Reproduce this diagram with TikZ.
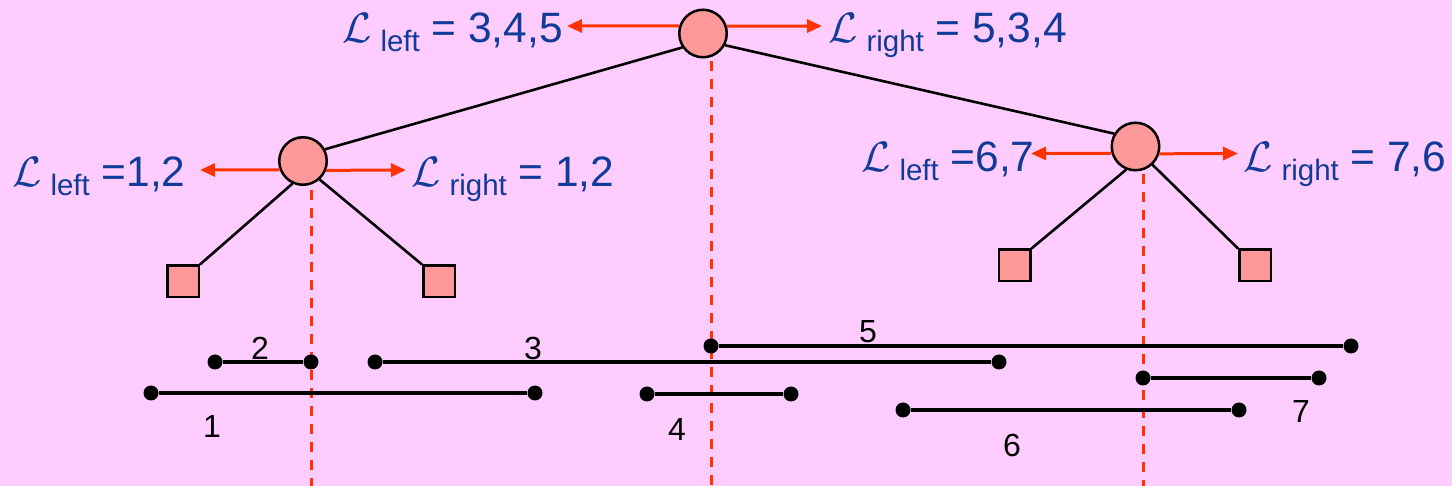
\RequirePackage{fix-cm}
\documentclass[tikz,border=0pt]{standalone}
\usepackage{fontspec}
\setmainfont{Liberation Sans}
\usetikzlibrary{arrows.meta}
\definecolor{bgpink}{RGB}{255,204,255}
\definecolor{salmon}{RGB}{255,153,153}
\definecolor{arrred}{RGB}{255,51,0}
\definecolor{txtblue}{RGB}{17,59,153}
\newcommand\Lsub[2]{$\mathcal{L}$\kern9pt\raisebox{-9pt}{\fontsize{29.5}{31}\selectfont #1}#2}
\begin{document}
\begin{tikzpicture}[x=1pt,y=-1pt,
  inner/.style={circle,draw=black,line width=2.5pt,fill=salmon,minimum size=47.5pt,inner sep=0pt},
  leaf/.style={rectangle,draw=black,line width=2.5pt,fill=salmon,minimum size=31.5pt,inner sep=0pt},
  treeedge/.style={draw=black,line width=2.6pt},
  splitarrow/.style={draw=arrred,line width=3pt,-{Triangle[length=15pt,width=13pt]}},
  splitline/.style={draw=arrred,line width=3pt,dash pattern=on 10pt off 8pt},
  dot/.style={circle,fill=black,minimum size=15pt,inner sep=0pt},
  seg/.style={draw=black,line width=3.2pt},
  lbl/.style={font=\fontsize{42.5}{50}\selectfont,text=txtblue,inner sep=0pt,anchor=base west},
  num/.style={font=\fontsize{32}{38}\selectfont,inner sep=0pt,anchor=base}]
\useasboundingbox (0,0) rectangle (1452,486);
\fill[bgpink] (0,0) rectangle (1452,486);

% split lines (dashed)
\coordinate (d1t) at (711,61); \coordinate (d1b) at (711,486);
\coordinate (d2t) at (311,190); \coordinate (d2b) at (311,486);
\coordinate (d3t) at (1143,174); \coordinate (d3b) at (1143,486);
\draw[splitline] (d1t) -- (d1b);
\draw[splitline] (d2t) -- (d2b);
\draw[splitline] (d3t) -- (d3b);

% tree nodes
\node[inner] (root) at (703,33.5) {};
\node[inner] (lc) at (303,161) {};
\node[inner] (rc) at (1135.5,146.5) {};
\node[leaf] (ll) at (183,281.5) {};
\node[leaf] (lr) at (439,281.5) {};
\node[leaf] (rl) at (1014.5,265.5) {};
\node[leaf] (rr) at (1255,265.5) {};

% tree edges
\draw[treeedge] (root.214) -- (lc.28);
\draw[treeedge] (root.332) -- (rc.149);
\draw[treeedge] (lc.245) -- (ll.north east);
\draw[treeedge] (lc.312) -- (lr.north west);
\draw[treeedge] (rc.248) -- (rl.north east);
\draw[treeedge] (rc.313) -- (rr.north west);

% arrow tips
\coordinate (rootLt) at (567,26); \coordinate (rootRt) at (822,26);
\coordinate (lcLt) at (200,170); \coordinate (lcRt) at (406,170);
\coordinate (rcLt) at (1031,153.5); \coordinate (rcRt) at (1238,153.5);
\draw[splitarrow] (root.162.5) -- (rootLt);
\draw[splitarrow] (root.17.5) -- (rootRt);
\draw[splitarrow] (lc.201.1) -- (lcLt);
\draw[splitarrow] (lc.338.9) -- (lcRt);
\draw[splitarrow] (rc.196.3) -- (rcLt);
\draw[splitarrow] (rc.343.7) -- (rcRt);

% labels
\node[lbl] (rootLlab) at (342,43) {\Lsub{left}{ = 3,4,5}};
\node[lbl] (rootRlab) at (828,43) {\Lsub{right}{ = 5,3,4}};
\node[lbl] (lcLlab) at (12,187) {\Lsub{left}{ =1,2}};
\node[lbl] (lcRlab) at (411,187) {\Lsub{right}{ = 1,2}};
\node[lbl] (rcLlab) at (861,172) {\Lsub{left}{ =6,7}};
\node[lbl] (rcRlab) at (1243,172) {\Lsub{right}{ = 7,6}};

% segments
\node[dot] (s1a) at (151,393) {}; \node[dot] (s1b) at (535,393) {};
\node[dot] (s2a) at (215,362) {}; \node[dot] (s2b) at (311,362) {};
\node[dot] (s3a) at (375,362) {}; \node[dot] (s3b) at (999,362) {};
\node[dot] (s4a) at (647,394) {}; \node[dot] (s4b) at (791,394) {};
\node[dot] (s5a) at (711,346) {}; \node[dot] (s5b) at (1351,346) {};
\node[dot] (s6a) at (903,410) {}; \node[dot] (s6b) at (1239,410) {};
\node[dot] (s7a) at (1143,378) {}; \node[dot] (s7b) at (1319,378) {};
\draw[seg] (s1a) -- (s1b);
\draw[seg] (s2a) -- (s2b);
\draw[seg] (s3a) -- (s3b);
\draw[seg] (s4a) -- (s4b);
\draw[seg] (s5a) -- (s5b);
\draw[seg] (s6a) -- (s6b);
\draw[seg] (s7a) -- (s7b);

% segment numbers
\node[num] (n1) at (212,438) {1};
\node[num] (n2) at (260,360) {2};
\node[num] (n3) at (533,360) {3};
\node[num] (n4) at (677,440) {4};
\node[num] (n5) at (868,343) {5};
\node[num] (n6) at (1012,456) {6};
\node[num] (n7) at (1301,423) {7};
\end{tikzpicture}
\end{document}
